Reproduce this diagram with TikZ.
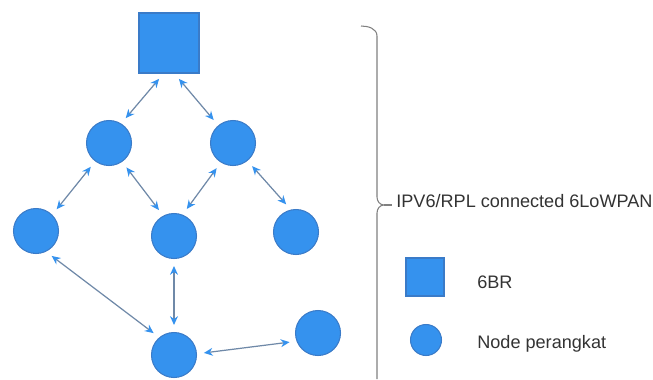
\documentclass[tikz,border=0pt]{standalone}
\usepackage{fontspec}
\setmainfont{Liberation Sans}
\usetikzlibrary{arrows.meta}
\definecolor{nodeblue}{HTML}{3592EE}
\definecolor{nodeedge}{HTML}{3A7BC8}
\definecolor{linkgray}{HTML}{6F89A8}
\definecolor{textgray}{HTML}{333333}

\begin{document}
\begin{tikzpicture}[x=0.02cm,y=-0.02cm,
    dev/.style={circle,fill=nodeblue,draw=nodeedge,line width=0.6pt,minimum size=0.9cm,inner sep=0pt},
    router/.style={rectangle,fill=nodeblue,draw=nodeedge,line width=0.6pt,minimum size=1.2cm,inner sep=0pt},
    link/.style={linkgray,line width=0.7pt,
        {Stealth[length=5pt,width=4.5pt,color=nodeblue,fill=nodeblue]}-{Stealth[length=5pt,width=4.5pt,color=nodeblue,fill=nodeblue]},
        shorten <=0.14cm,shorten >=0.14cm},
    lbl/.style={font=\fontsize{10.3}{12}\selectfont,text=textgray,anchor=base west,inner sep=0pt}]
    \useasboundingbox (0,0) rectangle (653,379);
    % network
    \node[router] (br) at (169,43) {};
    \node[dev] (c1) at (109,143) {};
    \node[dev] (c2) at (233,143) {};
    \node[dev] (l) at (36,231) {};
    \node[dev] (m) at (174,236) {};
    \node[dev] (r) at (296,232) {};
    \node[dev] (b) at (174,355) {};
    \node[dev] (fr) at (318,333) {};
    \draw[link] (br.-100) -- (c1.58);
    \draw[link] (br.-80) -- (c2.130);
    \draw[link] (c1.233) -- (l.45);
    \draw[link] (c1.-55) -- (m.118);
    \draw[link] (c2.238) -- (m.68);
    \draw[link] (c2.-51) -- (r.103);
    \draw[link] (l.-64) -- (b.130);
    \draw[link] (m.south) -- (b.north);
    \draw[link] (b.3) -- (fr.201);
    % brace and legend
    \draw[gray,line width=0.6pt] (361,26) to[out=0,in=90] (377,36) -- (377,197)
        to[out=-90,in=180] (384,205) to[out=180,in=90] (377,213) -- (377,379);
    \draw[gray,line width=0.6pt] (384,205) -- (392,205);
    \node[lbl] (net) at (396,207) {IPV6/RPL connected 6LoWPAN};
    \node[router,minimum size=0.76cm] (keybr) at (425,277) {};
    \node[lbl] (keybrtxt) at (477,288) {6BR};
    \node[dev,minimum size=0.62cm] (keydev) at (426,340) {};
    \node[lbl] (keydevtxt) at (477,348) {Node perangkat};
\end{tikzpicture}
\end{document}
